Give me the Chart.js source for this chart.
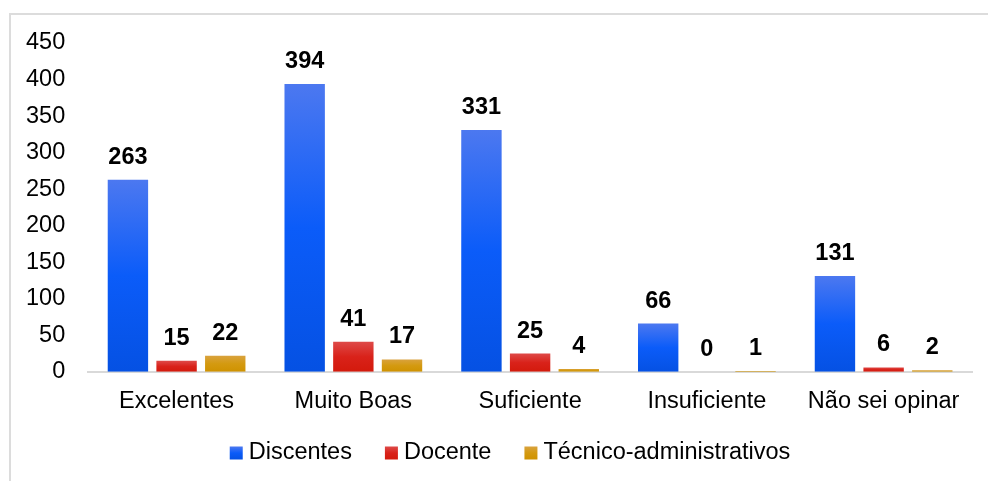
<!DOCTYPE html>
<html><head><meta charset="utf-8">
<script src="https://cdn.jsdelivr.net/npm/chart.js@4"></script>
<style>
html,body{margin:0;padding:0;background:#fff;overflow:hidden;width:988px;height:481px}
#frame{position:absolute;left:9px;top:13px;width:1000px;height:500px;border-left:2px solid #dcdcdc;border-top:2px solid #dcdcdc;box-sizing:border-box}
#wrap{position:absolute;left:0;top:0;width:988px;height:481px}
</style></head><body>
<div id="frame"></div>
<div id="wrap"><canvas id="c"></canvas></div>
<script>
const categories = ["Excelentes", "Muito Boas", "Suficiente", "Insuficiente", "Não sei opinar"];
const seriesNames = ["Discentes", "Docente", "Técnico-administrativos"];
const discentes = [263, 394, 331, 66, 131];
const docente = [15, 41, 25, 0, 6];
const tecnicos = [22, 17, 4, 1, 2];
const yTicks = [0, 50, 100, 150, 200, 250, 300, 350, 400, 450];

const FONT = '"Liberation Sans", Arial, sans-serif';
const FS = 23.5;
const blueStops = ['#4c78f0', '#0b5cf9', '#0551e3'];
const redStops = ['#de4a48', '#d9221a', '#d31a0c'];
const goldStops = ['#d9a23e', '#d49a10', '#cf9200'];
const allStops = [blueStops, redStops, goldStops];
const allData = [discentes, docente, tecnicos];

function makeGrad(c, stops, top, bottom) {
  const g = c.createLinearGradient(0, top, 0, bottom);
  g.addColorStop(0, stops[0]);
  g.addColorStop(0.5, stops[1]);
  g.addColorStop(1, stops[2]);
  return g;
}

function grad(stops) {
  return function (ctx) {
    const chart = ctx.chart;
    if (!chart.chartArea || ctx.type !== 'data' || !chart.scales.y) return stops[1];
    const y = chart.scales.y;
    const top = y.getPixelForValue(ctx.raw);
    const base = y.getPixelForValue(0);
    if (Math.abs(base - top) < 1) return stops[2];
    return makeGrad(chart.ctx, stops, top, base);
  };
}

const valueLabels = {
  id: 'valueLabels',
  afterDatasetsDraw(chart) {
    const c = chart.ctx;
    c.save();
    c.font = 'bold ' + FS + 'px ' + FONT;
    c.fillStyle = '#000';
    c.textAlign = 'center';
    c.textBaseline = 'alphabetic';
    chart.data.datasets.forEach((ds, i) => {
      const meta = chart.getDatasetMeta(i);
      meta.data.forEach((bar, j) => {
        c.fillText(String(ds.data[j]), bar.x, bar.y - 16);
      });
    });
    c.restore();
  }
};

const customLegend = {
  id: 'customLegend',
  afterDraw(chart) {
    const c = chart.ctx;
    c.save();
    c.font = FS + 'px ' + FONT;
    const box = 13, gapText = 6, gapItem = 33;
    const widths = seriesNames.map(n => c.measureText(n).width);
    let total = 0;
    widths.forEach(w => { total += box + gapText + w; });
    total += gapItem * (seriesNames.length - 1);
    let x = chart.width / 2 + 16 - total / 2;
    const cy = 453;
    c.textAlign = 'left';
    c.textBaseline = 'middle';
    seriesNames.forEach((n, i) => {
      c.fillStyle = makeGrad(c, allStops[i], cy - box / 2, cy + box / 2);
      c.fillRect(x, cy - box / 2, box, box);
      x += box + gapText;
      c.fillStyle = '#000';
      c.fillText(n, x, cy);
      x += widths[i] + gapItem;
    });
    c.restore();
  }
};

new Chart(document.getElementById('c'), {
  type: 'bar',
  data: {
    labels: categories,
    datasets: seriesNames.map((name, i) => ({
      label: name,
      data: allData[i],
      backgroundColor: grad(allStops[i]),
      borderWidth: 0,
      categoryPercentage: 0.826,
      barPercentage: 0.83
    }))
  },
  options: {
    responsive: true,
    maintainAspectRatio: false,
    animation: false,
    layout: { padding: { left: 3, right: 16, top: 43, bottom: 49 } },
    plugins: {
      legend: { display: false },
      tooltip: { enabled: false }
    },
    scales: {
      x: {
        grid: { display: false, drawTicks: false },
        border: { display: true, color: '#d9d9d9', width: 2 },
        ticks: { color: '#000', font: { size: FS, family: FONT }, padding: 16 }
      },
      y: {
        min: yTicks[0], max: yTicks[yTicks.length - 1],
        afterBuildTicks(axis) { axis.ticks = yTicks.map(v => ({ value: v })); },
        grid: { display: false, drawTicks: false },
        border: { display: false },
        ticks: { color: '#000', font: { size: FS, family: FONT }, padding: 23 }
      }
    }
  },
  plugins: [valueLabels, customLegend]
});
</script>
</body></html>
